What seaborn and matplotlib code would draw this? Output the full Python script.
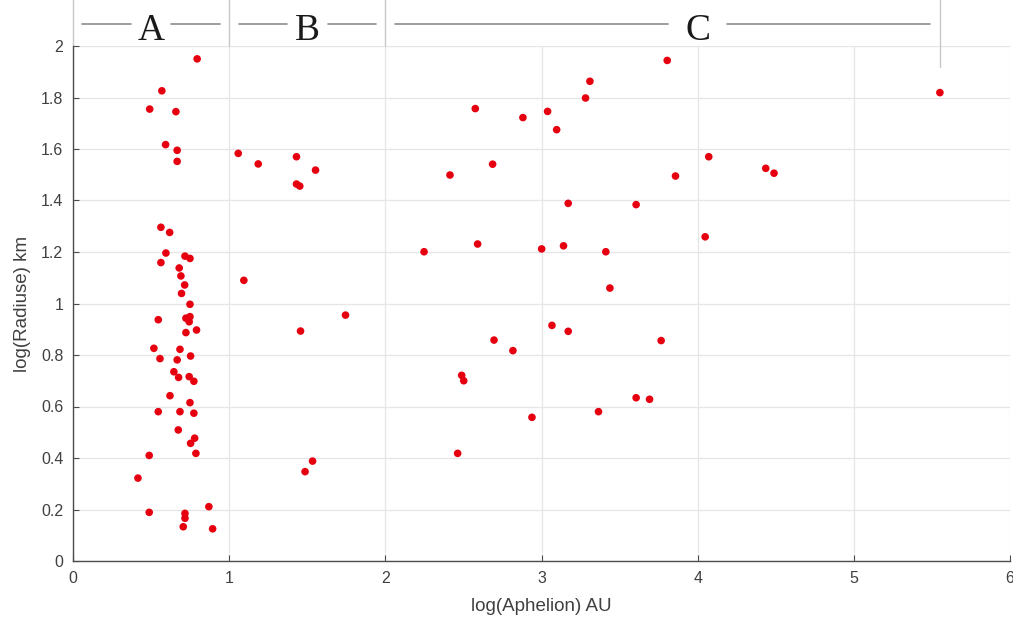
import numpy as np
import pandas as pd
import seaborn as sns
import matplotlib.pyplot as plt
from matplotlib.ticker import FormatStrFormatter

# group A: inner objects (log aphelion, log radius)
a_aphelion = [0.795, 0.569, 0.491, 0.659, 0.593, 0.667, 0.667, 0.563, 0.619, 0.595,
              0.563, 0.717, 0.749, 0.680, 0.691, 0.715, 0.695, 0.749, 0.546, 0.723,
              0.749, 0.744, 0.791, 0.723, 0.518, 0.685, 0.557, 0.667, 0.753, 0.646,
              0.676, 0.744, 0.774, 0.621, 0.749, 0.546, 0.685, 0.774, 0.674, 0.779,
              0.753, 0.787, 0.488, 0.416, 0.488, 0.870, 0.717, 0.717, 0.706, 0.894]
a_radius = [1.950, 1.826, 1.755, 1.745, 1.617, 1.595, 1.552, 1.296, 1.276, 1.196,
            1.159, 1.184, 1.175, 1.138, 1.107, 1.072, 1.039, 0.997, 0.937, 0.943,
            0.949, 0.929, 0.897, 0.887, 0.826, 0.822, 0.786, 0.781, 0.796, 0.735,
            0.713, 0.716, 0.698, 0.642, 0.615, 0.580, 0.580, 0.574, 0.509, 0.477,
            0.457, 0.418, 0.410, 0.322, 0.189, 0.211, 0.185, 0.166, 0.133, 0.125]

# group B
b_aphelion = [1.058, 1.186, 1.431, 1.553, 1.431, 1.452, 1.094, 1.745, 1.457, 1.534, 1.486]
b_radius = [1.583, 1.542, 1.570, 1.518, 1.464, 1.456, 1.090, 0.955, 0.893, 0.388, 0.347]

# group C
c_aphelion = [3.310, 3.282, 2.576, 2.881, 3.039, 3.097, 2.687, 2.414, 3.171, 2.248,
              2.591, 3.001, 3.141, 3.412, 3.805, 4.071, 3.858, 4.436, 4.489, 3.606,
              4.048, 5.551, 3.438, 3.067, 3.171, 2.696, 2.817, 2.489, 2.502, 2.939,
              3.365, 2.463, 3.766, 3.606, 3.692]
c_radius = [1.863, 1.798, 1.757, 1.722, 1.746, 1.675, 1.541, 1.499, 1.389, 1.201,
            1.231, 1.212, 1.224, 1.201, 1.944, 1.570, 1.495, 1.525, 1.506, 1.384,
            1.259, 1.819, 1.060, 0.915, 0.892, 0.858, 0.817, 0.721, 0.700, 0.558,
            0.580, 0.418, 0.856, 0.634, 0.628]

groups = ["A", "B", "C"]
group_bounds = [0, 1, 2, 5.55]
group_label_x = [0.5, 1.5, 4.0]

xticks = [0, 1, 2, 3, 4, 5, 6]
yticks = np.arange(0, 2.01, 0.2)

df = pd.DataFrame({
    "aphelion": a_aphelion + b_aphelion + c_aphelion,
    "radius": a_radius + b_radius + c_radius,
})

sns.set_theme(style="ticks")
plt.rcParams["font.family"] = ["Liberation Sans", "DejaVu Sans"]

fig = plt.figure(figsize=(10.13, 6.29), dpi=100)
ax = fig.add_axes([73 / 1013, 1 - 561 / 629, (1010 - 73) / 1013, (561 - 46) / 629])

sns.scatterplot(data=df, x="aphelion", y="radius", ax=ax, color="#e6000f",
                s=30, edgecolor="none", zorder=3)

ax.set_xlim(0, 6)
ax.set_ylim(0, 2)
ax.set_xticks(xticks)
ax.set_yticks(yticks)
ax.yaxis.set_major_formatter(FormatStrFormatter("%g"))
ax.grid(True, color="#e6e6e6", linewidth=0.9)
ax.set_axisbelow(True)
sns.despine(ax=ax)
for s in ["left", "bottom"]:
    ax.spines[s].set_color("#4d4d4d")
    ax.spines[s].set_linewidth(1.0)
ax.tick_params(direction="in", length=4, width=0.8, color="#4d4d4d",
               labelsize=11.5, labelcolor="#404040", pad=7)
ax.set_xlabel("log(Aphelion) AU", fontsize=13.5, color="#404040", labelpad=9)
ax.set_ylabel("log(Radiuse) km", fontsize=13.5, color="#404040", labelpad=7)

# group headers above the plot
y_line = 2.085
for i, g in enumerate(groups):
    lo, hi = group_bounds[i] + 0.06, group_bounds[i + 1] - 0.06
    cx = group_label_x[i]
    gap = 0.13 if g != "C" else 0.19
    ax.plot([lo, cx - gap], [y_line, y_line], color="#8c8c8c", lw=1.2, clip_on=False)
    ax.plot([cx + gap, hi], [y_line, y_line], color="#8c8c8c", lw=1.2, clip_on=False)
    ax.text(cx, 2.06, g, ha="center", va="center", fontsize=27,
            family="Liberation Serif", color="#1a1a1a", clip_on=False)
for i, b in enumerate(group_bounds):
    bottom = 1.92 if i == len(group_bounds) - 1 else 2.0
    ax.plot([b, b], [bottom, 2.2], color="#c8c8c8", lw=1.0, clip_on=False)

fig.savefig("out.png", dpi=100)
